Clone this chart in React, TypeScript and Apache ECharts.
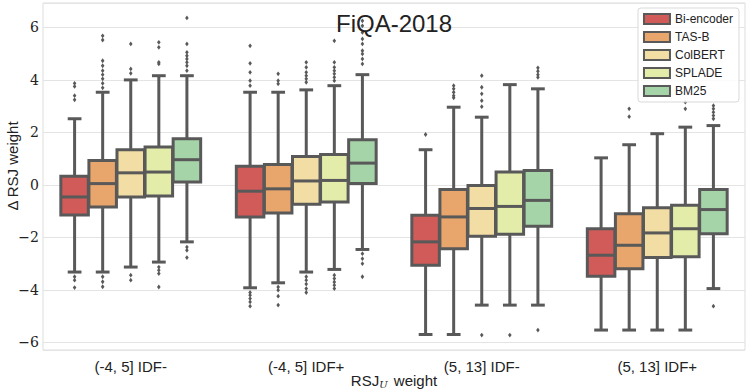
import React, { useEffect, useRef } from "react";
import * as echarts from "echarts";

const categories = ["(-4, 5] IDF-", "(-4, 5] IDF+", "(5, 13] IDF-", "(5, 13] IDF+"];
const models = ["Bi-encoder", "TAS-B", "ColBERT", "SPLADE", "BM25"];
const colors = ["#d05b58", "#e8a56c", "#f2dea4", "#e3eca9", "#a6d4a9"];
const yTicks = [-6, -4, -2, 0, 2, 4, 6];

// [lower whisker, Q1, median, Q3, upper whisker] for each category
const biEncoderBoxes = [
  [-3.32, -1.15, -0.46, 0.33, 2.52],
  [-3.92, -1.22, -0.24, 0.71, 3.53],
  [-5.7, -3.06, -2.17, -1.16, 1.34],
  [-5.53, -3.48, -2.68, -1.67, 1.03],
];
const tasbBoxes = [
  [-3.32, -0.84, 0.05, 0.93, 3.53],
  [-3.73, -1.07, -0.15, 0.78, 3.53],
  [-5.7, -2.43, -1.22, -0.18, 2.96],
  [-5.53, -3.19, -2.3, -1.1, 1.53],
];
const colbertBoxes = [
  [-3.13, -0.46, 0.46, 1.34, 4.0],
  [-3.32, -0.74, 0.15, 1.08, 3.62],
  [-4.58, -1.96, -0.9, -0.02, 2.58],
  [-5.53, -2.77, -1.83, -0.87, 1.95],
];
const spladeBoxes = [
  [-2.94, -0.42, 0.49, 1.44, 4.16],
  [-3.22, -0.65, 0.17, 1.16, 3.78],
  [-4.58, -1.88, -0.82, 0.49, 3.82],
  [-5.53, -2.74, -1.67, -0.78, 2.2],
];
const bm25Boxes = [
  [-2.17, 0.11, 0.96, 1.76, 4.16],
  [-2.46, 0.05, 0.83, 1.72, 4.2],
  [-4.58, -1.58, -0.59, 0.55, 3.66],
  [-3.95, -1.86, -0.94, -0.18, 2.26],
];

// outliers: [category index, value]
const biEncoderFliers = [
  [0, 3.87], [0, 3.75], [0, 3.4], [0, 3.24], [0, -3.5], [0, -3.63], [0, -3.91],
  [1, 5.3], [1, 4.63], [1, 4.29], [1, 3.97], [1, 3.78], [1, -4.1], [1, -4.2], [1, -4.33], [1, -4.46], [1, -4.62],
  [2, 1.92],
];
const tasbFliers = [
  [0, 5.68], [0, 5.52], [0, 4.73], [0, 4.54], [0, 4.35], [0, 4.2], [0, 4.04], [0, 3.87], [0, 3.7],
  [0, -3.5], [0, -3.69], [0, -3.88],
  [1, 4.23], [1, 3.97], [1, 3.85], [1, -3.89], [1, -4.01], [1, -4.24], [1, -4.58],
  [2, 3.78], [2, 3.66], [2, 3.53], [2, 3.4], [2, 3.32],
  [3, 2.9], [3, 2.6],
];
const colbertFliers = [
  [0, 5.37], [0, 4.42], [0, 4.25], [0, -3.44], [0, -3.63],
  [1, 4.67], [1, 4.48], [1, 4.29], [1, 4.16], [1, 4.04], [1, 3.91],
  [1, -3.5], [1, -3.63], [1, -3.78], [1, -3.95], [1, -4.1],
  [2, 4.16], [2, 3.72], [2, 3.47], [2, 3.21], [2, 2.98], [2, -5.72],
];
const spladeFliers = [
  [0, 5.43], [0, 5.24], [0, 4.67], [0, 4.61], [0, -3.13], [0, -3.25], [0, -3.38], [0, -3.89],
  [1, 5.49], [1, 4.67], [1, 4.48], [1, 4.35], [1, 4.23], [1, 4.1], [1, 3.97],
  [1, -3.44], [1, -3.57], [1, -3.7], [1, -3.82], [1, -3.95],
  [2, -5.72],
  [3, 3.15], [3, 2.9],
];
const bm25Fliers = [
  [0, 6.36], [0, 5.37], [0, 5.05], [0, 4.92], [0, 4.8], [0, 4.67], [0, 4.54], [0, 4.35],
  [0, -2.37], [0, -2.49], [0, -2.77],
  [1, 6.25], [1, 6.06], [1, 5.81], [1, 5.56], [1, 5.37], [1, 5.11], [1, 4.99], [1, 4.8], [1, 4.61],
  [1, -2.62], [1, -2.81], [1, -3.0], [1, -3.5],
  [2, 4.46], [2, 4.33], [2, 4.2], [2, 4.1], [2, -5.53],
  [3, 3.02], [3, 2.9], [3, 2.77], [3, 2.64], [3, 2.52], [3, -4.62],
];

const allBoxes = [biEncoderBoxes, tasbBoxes, colbertBoxes, spladeBoxes, bm25Boxes];
const allFliers = [biEncoderFliers, tasbFliers, colbertFliers, spladeFliers, bm25Fliers];

const LINE = "#595959";
const SANS = "'Liberation Sans', Arial, sans-serif";
const SERIF = "'DejaVu Serif', 'Liberation Serif', serif";

function slotInfo(api: any, cat: number, k: number) {
  const band = api.size([1, 0])[0];
  const slot = (band * 0.8) / models.length;
  const cx = api.coord([cat, 0])[0] + (k - (models.length - 1) / 2) * slot;
  return { slot, cx };
}

function makeBoxRender(k: number) {
  return (_params: any, api: any) => {
    const cat = api.value(0);
    const { slot, cx } = slotInfo(api, cat, k);
    const bw = slot * 0.98;
    const y = (d: number) => api.coord([cat, api.value(d)])[1];
    const yMin = y(1), yQ1 = y(2), yMed = y(3), yQ3 = y(4), yMax = y(5);
    const ls = { stroke: LINE, lineWidth: 3 };
    return {
      type: "group",
      children: [
        { type: "line", shape: { x1: cx, y1: yQ3, x2: cx, y2: yMax }, style: ls },
        { type: "line", shape: { x1: cx, y1: yQ1, x2: cx, y2: yMin }, style: ls },
        { type: "line", shape: { x1: cx - bw / 4, y1: yMax, x2: cx + bw / 4, y2: yMax }, style: ls },
        { type: "line", shape: { x1: cx - bw / 4, y1: yMin, x2: cx + bw / 4, y2: yMin }, style: ls },
        {
          type: "rect",
          shape: { x: cx - bw / 2, y: yQ3, width: bw, height: yQ1 - yQ3 },
          style: { fill: colors[k], stroke: LINE, lineWidth: 3 },
        },
        { type: "line", shape: { x1: cx - bw / 2, y1: yMed, x2: cx + bw / 2, y2: yMed }, style: ls },
      ],
    };
  };
}

function makeFlierRender(k: number) {
  return (_params: any, api: any) => {
    const cat = api.value(0);
    const { cx } = slotInfo(api, cat, k);
    const cy = api.coord([cat, api.value(1)])[1];
    const hw = 1.8, hh = 2.4;
    return {
      type: "polygon",
      shape: { points: [[cx, cy - hh], [cx + hw, cy], [cx, cy + hh], [cx - hw, cy]] },
      style: { fill: LINE },
    };
  };
}

export default function App() {
  const ref = useRef<HTMLDivElement>(null);
  useEffect(() => {
    if (!ref.current) return;
    const chart = echarts.init(ref.current, null, { renderer: "svg" });
    const series: any[] = [];
    models.forEach((m, k) => {
      series.push({
        type: "custom",
        name: m,
        itemStyle: { color: colors[k] },
        renderItem: makeBoxRender(k),
        encode: { x: 0, y: [1, 2, 3, 4, 5] },
        data: allBoxes[k].map((b, i) => [i, ...b]),
        z: 2,
      });
    });
    models.forEach((m, k) => {
      series.push({
        type: "custom",
        name: m + " outliers",
        itemStyle: { color: LINE },
        renderItem: makeFlierRender(k),
        encode: { x: 0, y: 1 },
        data: allFliers[k],
        z: 3,
      });
    });
    chart.setOption({
      animation: false,
      backgroundColor: "#ffffff",
      grid: {
        left: 43, right: 3, top: 3, bottom: 40,
        show: true, borderColor: "#dddddd", borderWidth: 1, backgroundColor: "#ffffff",
      },
      xAxis: {
        type: "category",
        data: categories,
        axisLine: { show: false },
        axisTick: { show: false },
        splitLine: { show: false },
        axisLabel: { margin: 9, fontSize: 15, color: "#222", fontFamily: SANS },
      },
      yAxis: {
        type: "value",
        min: -6.29,
        max: 6.93,
        splitNumber: 7,
        minInterval: 2,
        maxInterval: 2,
        axisLine: { show: false },
        axisTick: { show: false },
        splitLine: { lineStyle: { color: "#e4e4e4", width: 1 } },
        axisLabel: {
          margin: 4,
          fontSize: 14,
          color: "#222",
          fontFamily: SERIF,
          formatter: (v: number) => {
            const t = yTicks.find((tv) => Math.abs(tv - v) < 1e-6);
            if (t === undefined) return "";
            return t < 0 ? "−" + Math.abs(t) : String(t);
          },
        },
      },
      legend: {
        data: models.map((m, i) => ({
          name: m,
          itemStyle: { color: colors[i], borderColor: LINE, borderWidth: 2 },
        })),
        orient: "vertical",
        right: 9,
        top: 8,
        icon: "rect",
        itemWidth: 26,
        itemHeight: 10,
        itemGap: 6,
        padding: [5, 6, 5, 5],
        selectedMode: false,
        backgroundColor: "rgba(255,255,255,0.85)",
        borderColor: "#d9d9d9",
        borderWidth: 1,
        borderRadius: 3,
        textStyle: { fontSize: 12, lineHeight: 12, color: "#222", fontFamily: SANS },
        z: 10,
      },
      graphic: [
        {
          type: "text",
          x: 394,
          y: 23,
          z: 20,
          style: {
            text: "FiQA-2018",
            fontSize: 24,
            fontFamily: SANS,
            fill: "#222",
            align: "center",
            verticalAlign: "middle",
          },
        },
        {
          type: "text",
          x: 12,
          y: 166,
          rotation: Math.PI / 2,
          style: {
            text: "Δ RSJ weight",
            fontSize: 15,
            fontFamily: SANS,
            fill: "#222",
            align: "center",
            verticalAlign: "middle",
          },
        },
        {
          type: "text",
          x: 394,
          y: 380,
          style: {
            text: "RSJ{sub|U} weight",
            fontSize: 15,
            fontFamily: SANS,
            fill: "#222",
            align: "center",
            verticalAlign: "middle",
            rich: {
              sub: { fontSize: 10, fontStyle: "italic", fontFamily: SERIF, fill: "#222", padding: [8, 2, 0, 0] },
            },
          },
        },
      ],
      series,
    });
    return () => chart.dispose();
  }, []);
  return (
    <div
      ref={ref}
      style={{ position: "fixed", left: 0, top: 0, width: 748, height: 390 }}
    />
  );
}
